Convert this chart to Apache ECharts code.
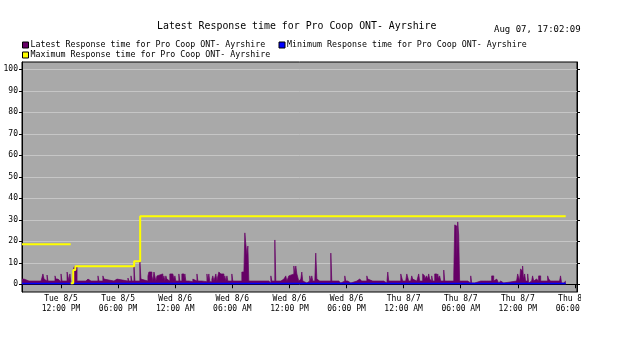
<!DOCTYPE html>
<html>
<head>
<meta charset="utf-8">
<title>Latest Response time for Pro Coop ONT- Ayrshire</title>
<script src="https://cdn.jsdelivr.net/npm/echarts@6/dist/echarts.min.js"></script>
<style>
  html, body { margin: 0; padding: 0; background: #fff; }
  #chart { width: 581px; height: 353px; }
</style>
</head>
<body>
<div id="chart"></div>
<script>
// samples start at Tue 8/5 07:54, polling ends Thu 8/7 17:02
const startTime = "2014-08-05T07:54:00";
const axisEndMinute = 3499;

// [minutes after start, response time] - value holds until the next entry
const latestSteps = [
  [0, 2.4], [13, 1.5], [44, 2.4], [50, 1.5], [76, 2.4], [82, 1.5], [120, 2.4], [132, 4.8],
  [139, 2.4], [151, 1.5], [158, 4.3], [164, 1.5], [195, 2.4], [202, 1.5], [208, 3.9], [214, 2.4],
  [227, 1.5], [233, 1.2], [246, 4.8], [252, 1.5], [284, 5.7], [296, 1.5], [302, 4.8], [309, 0.5],
  [323, 6.6], [329, 8.2], [347, 1.5], [365, 2.4], [372, 1.5], [403, 2.4], [416, 1.5], [435, 2.4],
  [447, 1.5], [479, 3.9], [485, 1.5], [510, 3.9], [517, 2.4], [529, 1.5], [580, 2.4], [586, 1.5],
  [592, 2.4], [599, 1.5], [668, 2.9], [674, 1.5], [687, 3.9], [693, 1.5], [706, 8.3], [712, 1.5],
  [743, 10.5], [750, 2.4], [762, 1.5], [794, 3.9], [800, 5.7], [819, 3.9], [825, 1.5], [832, 5.7],
  [844, 1.5], [851, 3.9], [857, 4.8], [888, 2.4], [895, 3.9], [901, 1.5], [907, 3.9], [913, 2.4],
  [920, 1.5], [932, 4.8], [951, 5.7], [958, 2.4], [964, 3.9], [970, 1.5], [989, 4.8], [995, 1.5],
  [1008, 4.8], [1021, 2.4], [1027, 4.8], [1033, 1.5], [1052, 2.4], [1058, 1.2], [1077, 2.4], [1084, 1.5],
  [1103, 4.8], [1109, 1.5], [1134, 2.4], [1140, 1.2], [1166, 4.8], [1172, 1.5], [1178, 4.8], [1184, 1.2],
  [1197, 2.4], [1203, 3.9], [1210, 1.5], [1222, 4.8], [1229, 1.5], [1235, 3.9], [1241, 5.7], [1247, 4.8],
  [1254, 5.7], [1260, 3.9], [1266, 4.8], [1273, 2.4], [1279, 3.9], [1285, 1.5], [1292, 3.9], [1298, 1.5],
  [1304, 2.4], [1310, 1.5], [1323, 4.8], [1329, 1.5], [1386, 5.7], [1399, 4.8], [1405, 23.9], [1411, 18.7],
  [1418, 13.6], [1424, 17.8], [1430, 1.5], [1443, 2.4], [1449, 0.6], [1455, 1.5], [1487, 0.6], [1493, 1.5],
  [1525, 2.4], [1531, 1.5], [1556, 0.6], [1569, 3.9], [1575, 1.5], [1594, 20.6], [1600, 1.5], [1632, 2.4],
  [1638, 1.5], [1644, 2.4], [1651, 1.5], [1657, 2.4], [1663, 3.9], [1670, 1.5], [1682, 3.9], [1688, 4.8],
  [1714, 8.5], [1720, 4.8], [1726, 8.5], [1733, 4.8], [1745, 1.5], [1751, 2.4], [1758, 1.5], [1764, 5.7],
  [1770, 1.5], [1777, 0.6], [1796, 1.5], [1814, 3.9], [1821, 1.5], [1827, 3.9], [1833, 1.5], [1846, 0.6],
  [1852, 14.5], [1859, 2.4], [1865, 1.5], [1877, 0.6], [1884, 1.5], [1896, 0.6], [1903, 1.5], [1947, 14.5],
  [1953, 1.5], [1978, 2.4], [1985, 1.5], [1997, 0.6], [2010, 1.5], [2035, 3.9], [2041, 1.5], [2054, 0.6],
  [2073, 1.5], [2111, 2.4], [2117, 1.5], [2123, 2.4], [2129, 1.5], [2142, 2.4], [2148, 1.5], [2174, 3.9],
  [2180, 2.4], [2186, 1.5], [2211, 0.6], [2218, 1.5], [2224, 0.6], [2230, 1.5], [2281, 0.6], [2287, 1.5],
  [2293, 0.6], [2300, 1.5], [2306, 5.7], [2312, 1.5], [2356, 0.6], [2363, 1.5], [2388, 4.8], [2394, 3.9],
  [2400, 1.5], [2419, 2.4], [2426, 4.8], [2438, 1.5], [2451, 2.4], [2457, 3.9], [2463, 2.4], [2470, 1.5],
  [2489, 2.4], [2495, 1.5], [2501, 4.8], [2507, 1.5], [2526, 4.8], [2533, 3.9], [2539, 2.4], [2545, 1.5],
  [2551, 3.9], [2558, 2.4], [2564, 4.8], [2570, 2.4], [2577, 1.5], [2583, 3.9], [2589, 1.5], [2602, 4.8],
  [2615, 2.4], [2621, 4.8], [2627, 2.4], [2633, 3.9], [2640, 1.5], [2646, 2.4], [2652, 1.5], [2659, 6.6],
  [2665, 1.5], [2684, 2.4], [2690, 1.5], [2703, 0.6], [2709, 1.5], [2722, 3.9], [2728, 27.6], [2734, 27.1],
  [2741, 11.8], [2747, 29.0], [2753, 22.9], [2759, 1.5], [2772, 0.6], [2778, 1.5], [2791, 0.6], [2797, 1.5],
  [2810, 0.6], [2816, 1.5], [2822, 0.6], [2829, 3.9], [2835, 0.6], [2854, 1.5], [2892, 0.6], [2898, 1.5],
  [2911, 0.6], [2917, 2.4], [2923, 1.5], [2929, 0.6], [2936, 1.5], [2942, 0.6], [2948, 1.5], [2961, 3.9],
  [2974, 1.5], [2986, 2.4], [2993, 1.5], [3005, 0.6], [3011, 1.5], [3018, 0.6], [3024, 1.5], [3030, 0.6],
  [3037, 1.5], [3118, 2.4], [3125, 4.8], [3137, 1.5], [3143, 7.1], [3150, 6.2], [3156, 8.5], [3162, 2.4],
  [3169, 4.8], [3175, 1.5], [3188, 4.8], [3194, 0.6], [3200, 1.5], [3213, 2.4], [3219, 3.9], [3226, 1.5],
  [3238, 2.4], [3244, 1.5], [3257, 3.9], [3270, 1.5], [3314, 3.9], [3320, 2.4], [3326, 1.5], [3333, 0.6],
  [3345, 1.5], [3351, 2.4], [3358, 1.5], [3389, 0.6], [3395, 3.9], [3402, 0.6], [3415, 1.5], [3428, 1.5],
];

const minimumSteps = [[0, 0.3], [3428, 0.3]];

// max line: early value, then a break, then stepping up
const maximumEarly = [[0, 18.6], [307, 18.6]];
const maximumSteps = [[307, 0.5], [323, 6.6], [336, 8.4], [707, 10.7], [745, 31.6], [3428, 31.6]];

const yTicks = [0, 10, 20, 30, 40, 50, 60, 70, 80, 90, 100];

const xTickTimes = [
  "2014-08-05T12:00:00", "2014-08-05T18:00:00", "2014-08-06T00:00:00", "2014-08-06T06:00:00",
  "2014-08-06T12:00:00", "2014-08-06T18:00:00", "2014-08-07T00:00:00", "2014-08-07T06:00:00",
  "2014-08-07T12:00:00", "2014-08-07T18:00:00",
];
const xTickLabels = [
  "Tue 8/5\n12:00 PM", "Tue 8/5\n06:00 PM", "Wed 8/6\n12:00 AM", "Wed 8/6\n06:00 AM",
  "Wed 8/6\n12:00 PM", "Wed 8/6\n06:00 PM", "Thu 8/7\n12:00 AM", "Thu 8/7\n06:00 AM",
  "Thu 8/7\n12:00 PM", "Thu 8/7\n06:00 PM",
];

const names = [
  "Latest Response time for Pro Coop ONT- Ayrshire",
  "Minimum Response time for Pro Coop ONT- Ayrshire",
  "Maximum Response time for Pro Coop ONT- Ayrshire",
];

// x axis runs in minutes after startTime
const t0 = new Date(startTime).getTime();
const tickMinutes = xTickTimes.map((s) => Math.round((new Date(s).getTime() - t0) / 60000));

const mono = "DejaVu Sans Mono";

const chart = echarts.init(document.getElementById("chart"));

chart.setOption({
  animation: false,
  title: [
    {
      text: "Latest Response time for Pro Coop ONT- Ayrshire",
      left: 157,
      top: 21,
      padding: 0,
      textStyle: { fontFamily: mono, fontSize: 9.9, fontWeight: "normal", color: "#000" },
    },
    {
      text: "Aug 07, 17:02:09",
      left: 494,
      top: 25,
      padding: 0,
      textStyle: { fontFamily: mono, fontSize: 9, fontWeight: "normal", color: "#000" },
    },
  ],
  legend: {
    data: names,
    left: 22,
    top: 40,
    width: 540,
    icon: "rect",
    itemWidth: 6,
    itemHeight: 6,
    itemGap: 0,
    padding: 0,
    itemStyle: { borderColor: "#000", borderWidth: 1 },
    textStyle: {
      fontFamily: mono,
      fontSize: 8.3,
      color: "#000",
      width: 248,
      lineHeight: 10,
      padding: [0, 0, 0, -3],
    },
  },
  grid: {
    left: 22,
    right: 4,
    top: 62,
    bottom: 61,
    outerBoundsMode: "none",
    show: true,
    backgroundColor: "#a9a9a9",
    borderColor: "#000",
    borderWidth: 1,
  },
  xAxis: {
    type: "value",
    min: 0,
    max: axisEndMinute,
    axisLine: { lineStyle: { color: "#000", width: 1 } },
    axisTick: { customValues: tickMinutes, length: 4, lineStyle: { color: "#000" } },
    splitLine: { show: false },
    axisLabel: {
      customValues: tickMinutes,
      formatter: (v) => xTickLabels[tickMinutes.indexOf(v)] || "",
      fontFamily: mono,
      fontSize: 8,
      lineHeight: 10,
      margin: 2,
      color: "#000",
    },
  },
  yAxis: [
    {
      type: "value",
      min: -3.6,
      max: 103.4,
      axisLine: { show: true, lineStyle: { color: "#000" } },
      axisTick: { show: true, customValues: yTicks, length: 3, lineStyle: { color: "#000" } },
      splitLine: { show: true, lineStyle: { color: "#c6c6c6", width: 1 } },
      axisLabel: { customValues: yTicks, fontFamily: mono, fontSize: 8, margin: 4, color: "#000" },
    },
    {
      type: "value",
      position: "right",
      min: -3.6,
      max: 103.4,
      axisLine: { show: true, lineStyle: { color: "#000" } },
      axisTick: { show: true, customValues: yTicks, length: 3, lineStyle: { color: "#000" } },
      splitLine: { show: false },
      axisLabel: { show: false },
    },
  ],
  series: [
    {
      name: names[0],
      type: "line",
      step: "end",
      color: "#660066",
      data: latestSteps,
      showSymbol: false,
      lineStyle: { width: 0.7, color: "#660066" },
      areaStyle: { color: "#660066", opacity: 1 },
      z: 2,
    },
    {
      name: names[1],
      type: "line",
      color: "#0000ff",
      data: minimumSteps,
      showSymbol: false,
      lineStyle: { width: 1.5, color: "#0000ff" },
      z: 3,
    },
    {
      name: names[2],
      type: "line",
      color: "#ffff00",
      data: maximumEarly,
      showSymbol: false,
      lineStyle: { width: 2, color: "#ffff00" },
      z: 4,
    },
    {
      name: names[2],
      type: "line",
      step: "end",
      color: "#ffff00",
      data: maximumSteps,
      showSymbol: false,
      lineStyle: { width: 2, color: "#ffff00" },
      z: 4,
    },
  ],
});
</script>
</body>
</html>
